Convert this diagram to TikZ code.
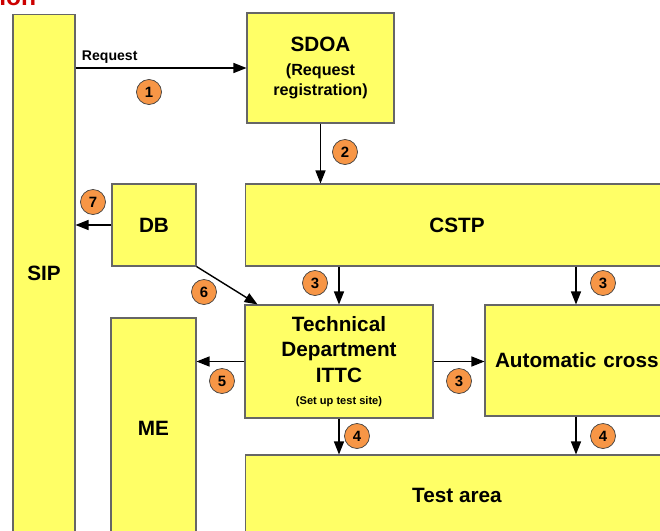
\documentclass[tikz,border=0pt]{standalone}
\usepackage{fontspec}
\setmainfont{Liberation Sans}
\usepackage{xcolor}
\usetikzlibrary{arrows.meta}

\definecolor{boxyellow}{HTML}{FFFF66}
\definecolor{numorange}{HTML}{F79646}
\definecolor{titlered}{HTML}{CC0000}

\newcommand{\subtxt}{\fontsize{9.2}{11}\selectfont}

\begin{document}
\begin{tikzpicture}
    [x=0.02cm,y=-0.02cm,
    box/.style={shape=rectangle,draw=black!60,fill=boxyellow,line width=0.6pt,inner sep=0pt,align=center,font=\fontsize{11.8}{14.5}\selectfont\bfseries},
    num/.style={shape=circle,draw=black!75,fill=numorange,minimum size=0.5cm,inner sep=0pt,font=\fontsize{8.5}{9}\selectfont\bfseries},
    arc/.style={-{Triangle[length=0.26cm,width=0.2cm]},line width=0.8pt}]

    \useasboundingbox (0,0) rectangle (660,531);
    \clip (0,0) rectangle (660,531);

    \node (title) [anchor=base west,inner sep=0pt,text=titlered,font=\fontsize{14}{14}\selectfont\bfseries] at (-1,5) {ion};

    \node (sip) [box,minimum width=1.24cm,minimum height=10.36cm] at (44,273) {SIP};
    \node (sdoa) [box,minimum width=2.94cm,minimum height=2.2cm] at (320.5,68)
        {SDOA\\[-1pt]\subtxt (Request\\[-3pt]\subtxt registration)};
    \node (db) [box,minimum width=1.68cm,minimum height=1.64cm] at (154,225) {DB};
    \node (cstp) [box,minimum width=8.48cm,minimum height=1.64cm] at (457,225) {CSTP};
    \node (me) [box,minimum width=1.7cm,minimum height=4.4cm] at (153.5,428) {ME};
    \node (tech) [box,minimum width=3.76cm,minimum height=2.26cm] at (339,361.5)
        {Technical\\Department\\ITTC\\[-2pt]\fontsize{6.3}{8}\selectfont (Set up test site)};
    \node (auto) [box,minimum width=3.64cm,minimum height=2.22cm,text width=3.24cm,align=left] at (576,360.5)
        {\mbox{Automatic cross}};
    \node (test) [box,minimum width=8.48cm,minimum height=1.6cm] at (457,495) {Test area};

    \draw [arc] (sip.east |- sdoa.west) -- node (req) [pos=0.2,above=-1pt,font=\fontsize{8}{9}\selectfont\bfseries] {Request} (sdoa.west);
    \draw [arc] (sdoa.south) -- (sdoa.south |- cstp.north);
    \draw [arc] (db.west) -- (db.west -| sip.east);
    \draw [arc] (db.south east) -- (tech.145);
    \draw [arc] (tech.north |- cstp.south) -- (tech.north);
    \draw [arc] (auto.north |- cstp.south) -- (auto.north);
    \draw [arc] (tech.west) -- (tech.west -| me.east);
    \draw [arc] (tech.east) -- (tech.east -| auto.west);
    \draw [arc] (tech.south) -- (tech.south |- test.north);
    \draw [arc] (auto.south) -- (auto.south |- test.north);

    \node (n1) [num] at (149,92) {1};
    \node (n2) [num] at (345,152) {2};
    \node (n3a) [num] at (315,283) {3};
    \node (n3b) [num] at (603,283) {3};
    \node (n3c) [num] at (459,381) {3};
    \node (n4a) [num] at (357,436) {4};
    \node (n4b) [num] at (603,436) {4};
    \node (n5) [num] at (222,381) {5};
    \node (n6) [num] at (204,292) {6};
    \node (n7) [num] at (93,202) {7};

\end{tikzpicture}
\end{document}
